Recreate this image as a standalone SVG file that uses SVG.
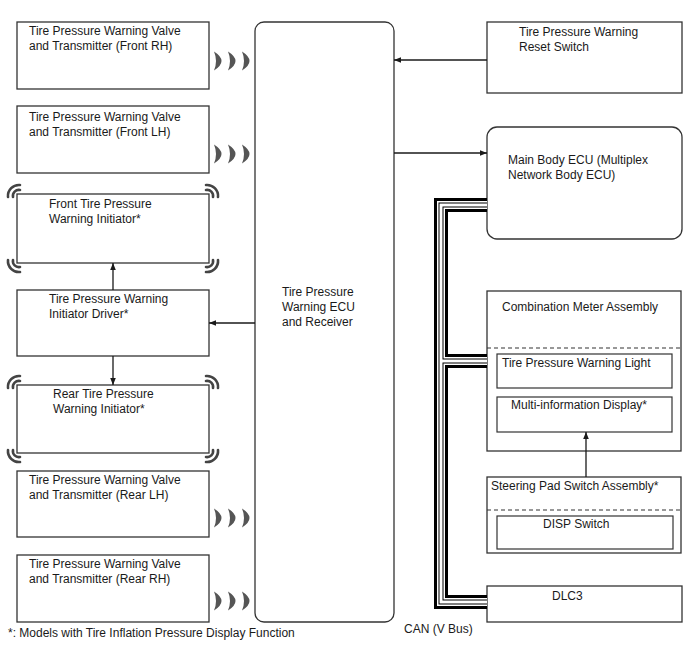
<svg xmlns="http://www.w3.org/2000/svg" width="688" height="658" viewBox="0 0 688 658">
<style>
.box{fill:#fff;stroke:#333;stroke-width:1.3}
.sub{fill:#fff;stroke:#333;stroke-width:1.2}
.dash{stroke:#333;stroke-width:1.2;stroke-dasharray:4 3;fill:none}
text{font-family:"Liberation Sans",Arial,sans-serif;font-size:12px;fill:#1a1a1a}
.line{stroke:#1a1a1a;stroke-width:1.3;fill:none}
.wave{fill:#555}
.corner{fill:none;stroke:#444;stroke-width:2.6;stroke-linecap:round}
.can{fill:none;stroke-linejoin:miter;stroke-linecap:butt}
</style>
<defs>
<marker id="arr" viewBox="0 0 10 10" refX="10" refY="5" markerWidth="8" markerHeight="7" orient="auto" markerUnits="userSpaceOnUse">
<path d="M0,1 L10,5 L0,9 Z" fill="#1a1a1a"/>
</marker>
<g id="waves">
<path class="wave" d="M0,-9.5 Q15,0 0,9.5 Q4,0 0,-9.5 Z"/>
<path class="wave" d="M14,-9.5 Q29,0 14,9.5 Q18,0 14,-9.5 Z"/>
<path class="wave" d="M28,-9.5 Q43,0 28,9.5 Q32,0 28,-9.5 Z"/>
</g>
<g id="cor">
<path class="corner" d="M-9,3 A11,11 0 0 1 3,-9"/>
<path class="corner" d="M-4,3 A6,6 0 0 1 3,-4"/>
</g>
</defs>

<g id="ecu">
<rect class="box" x="255" y="22" width="139" height="600" rx="9"/>
<text x="282" y="296">Tire Pressure</text>
<text x="282" y="311">Warning ECU</text>
<text x="282" y="326">and Receiver</text>
</g>

<g id="tx-front-rh">
<rect class="box" x="17" y="22" width="192" height="67"/>
<text x="29" y="35">Tire Pressure Warning Valve</text>
<text x="29" y="50">and Transmitter (Front RH)</text>
<use href="#waves" x="214" y="61"/>
</g>

<g id="tx-front-lh">
<rect class="box" x="17" y="106" width="192" height="67"/>
<text x="29" y="121">Tire Pressure Warning Valve</text>
<text x="29" y="136">and Transmitter (Front LH)</text>
<use href="#waves" x="214" y="154"/>
</g>

<g id="front-initiator">
<rect class="box" x="17" y="194" width="192" height="69"/>
<text x="49" y="208">Front Tire Pressure</text>
<text x="49" y="223">Warning Initiator*</text>
<use href="#cor" transform="translate(17,194)"/>
<use href="#cor" transform="translate(209,194) rotate(90)"/>
<use href="#cor" transform="translate(209,263) rotate(180)"/>
<use href="#cor" transform="translate(17,263) rotate(270)"/>
</g>

<g id="initiator-driver">
<rect class="box" x="17" y="290" width="192" height="66"/>
<text x="49" y="303">Tire Pressure Warning</text>
<text x="49" y="318">Initiator Driver*</text>
</g>

<g id="rear-initiator">
<rect class="box" x="17" y="385" width="192" height="68"/>
<text x="53" y="398">Rear Tire Pressure</text>
<text x="53" y="413">Warning Initiator*</text>
<use href="#cor" transform="translate(17,385)"/>
<use href="#cor" transform="translate(209,385) rotate(90)"/>
<use href="#cor" transform="translate(209,453) rotate(180)"/>
<use href="#cor" transform="translate(17,453) rotate(270)"/>
</g>

<g id="tx-rear-lh">
<rect class="box" x="17" y="471" width="192" height="66"/>
<text x="29" y="484">Tire Pressure Warning Valve</text>
<text x="29" y="499">and Transmitter (Rear LH)</text>
<use href="#waves" x="214" y="518"/>
</g>

<g id="tx-rear-rh">
<rect class="box" x="17" y="555" width="192" height="67"/>
<text x="29" y="568">Tire Pressure Warning Valve</text>
<text x="29" y="583">and Transmitter (Rear RH)</text>
<use href="#waves" x="214" y="601"/>
</g>

<g id="reset-switch">
<rect class="box" x="487" y="22" width="195" height="71"/>
<text x="519" y="36">Tire Pressure Warning</text>
<text x="519" y="51">Reset Switch</text>
</g>

<g id="main-body-ecu">
<rect class="box" x="487" y="127" width="195" height="112" rx="10"/>
<text x="508" y="164">Main Body ECU (Multiplex</text>
<text x="508" y="179">Network Body ECU)</text>
</g>

<g id="combination-meter">
<rect class="box" x="487" y="291" width="194" height="160"/>
<text x="502" y="311">Combination Meter Assembly</text>
<line class="dash" x1="487" y1="348" x2="681" y2="348"/>
<rect class="sub" x="497" y="354" width="175" height="34"/>
<text x="502" y="367">Tire Pressure Warning Light</text>
<rect class="sub" x="497" y="397" width="175" height="35"/>
<text x="511" y="409">Multi-information Display*</text>
</g>

<g id="steering-pad">
<rect class="box" x="487" y="477" width="194" height="76"/>
<text x="491" y="490">Steering Pad Switch Assembly*</text>
<line class="dash" x1="487" y1="510" x2="681" y2="510"/>
<rect class="sub" x="497" y="516" width="176" height="33"/>
<text x="543" y="528">DISP Switch</text>
</g>

<g id="dlc3">
<rect class="box" x="487" y="586" width="195" height="36"/>
<text x="552" y="600">DLC3</text>
</g>

<g id="connectors">
<line class="line" x1="487" y1="60" x2="394" y2="60" marker-end="url(#arr)"/>
<line class="line" x1="394" y1="153" x2="487" y2="153" marker-end="url(#arr)"/>
<line class="line" x1="255" y1="323" x2="209" y2="323" marker-end="url(#arr)"/>
<line class="line" x1="113" y1="290" x2="113" y2="263" marker-end="url(#arr)"/>
<line class="line" x1="113" y1="356" x2="113" y2="385" marker-end="url(#arr)"/>
<line class="line" x1="586" y1="477" x2="586" y2="432" marker-end="url(#arr)"/>
<g id="can-bus">
<path class="can" stroke="#000" stroke-width="14" d="M487,205 H441 V602 H487"/>
<path class="can" stroke="#000" stroke-width="14" d="M441,361 H487"/>
<path class="can" stroke="#fff" stroke-width="8" d="M487,205 H441 V602 H487"/>
<path class="can" stroke="#fff" stroke-width="8" d="M441,361 H487"/>
<path class="can" stroke="#000" stroke-width="5" d="M487,205 H441 V602 H487"/>
<path class="can" stroke="#000" stroke-width="5" d="M441,361 H487"/>
<path class="can" stroke="#fff" stroke-width="3" d="M487,205 H441 V602 H487"/>
<path class="can" stroke="#fff" stroke-width="3" d="M441,361 H487"/>
</g>
</g>

<text x="404" y="633">CAN (V Bus)</text>
<text x="8" y="637">*: Models with Tire Inflation Pressure Display Function</text>
</svg>
